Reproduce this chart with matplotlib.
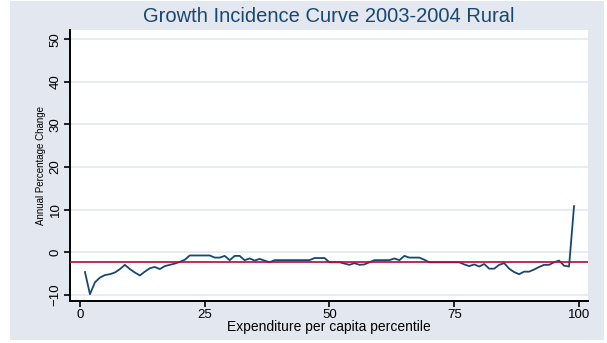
import numpy as np
import matplotlib.pyplot as plt
from matplotlib.patches import Rectangle

plt.rcParams['font.family'] = ['Liberation Sans', 'DejaVu Sans']

# growth in per capita expenditure by percentile, rural 2003-2004
percentile = np.arange(1, 100)
growth = [
    -4.7, -9.9, -7.1, -6.0, -5.4, -5.2, -4.8, -4.0, -3.0, -4.0,
    -4.8, -5.5, -4.6, -3.8, -3.5, -4.0, -3.3, -3.0, -2.7, -2.3,
    -1.8, -0.8, -0.8, -0.8, -0.8, -0.8, -1.3, -1.3, -0.9, -1.9,
    -0.9, -0.9, -1.9, -1.5, -2.0, -1.6, -2.0, -2.4, -1.9, -1.9,
    -1.9, -1.9, -1.9, -1.9, -1.9, -1.9, -1.4, -1.4, -1.4, -2.4,
    -2.4, -2.4, -2.7, -3.0, -2.6, -3.0, -2.9, -2.4, -1.9, -1.9,
    -1.9, -1.9, -1.5, -1.9, -0.9, -1.3, -1.3, -1.3, -1.8, -2.4,
    -2.4, -2.4, -2.4, -2.4, -2.4, -2.4, -2.9, -3.3, -2.9, -3.4,
    -2.8, -3.9, -3.9, -3.0, -2.6, -3.9, -4.7, -5.2, -4.6, -4.6,
    -4.1, -3.5, -3.0, -3.0, -2.4, -2.0, -3.2, -3.4, 10.8,
]
mean_growth = -2.4

x_ticks = [0, 25, 50, 75, 100]
y_ticks = [-10, 0, 10, 20, 30, 40, 50]

W, H = 607, 343
fig = plt.figure(figsize=(W / 100, H / 100), dpi=100, facecolor='white')
fig.patches.append(Rectangle((10 / W, 3 / H), 594 / W, 339 / H,
                             transform=fig.transFigure, facecolor='#e3e7f0',
                             edgecolor='none', zorder=-10))

ax = fig.add_axes([70 / W, 42 / H, 518 / W, 271 / H])
ax.set_facecolor('white')

ax.plot(percentile, growth, color='#1a476f', lw=1.3, zorder=3)
ax.axhline(mean_growth, color='#c10534', lw=1.2, zorder=4)

ax.set_xlim(-2.0, 101.8)
ax.set_ylim(-11.5, 52.2)
ax.set_xticks(x_ticks)
ax.set_yticks(y_ticks)
ax.grid(axis='y', color='#e3e7f0', lw=1.2, zorder=1)
ax.grid(axis='x', visible=False)

for s in ['top', 'right']:
    ax.spines[s].set_visible(False)
for s in ['left', 'bottom']:
    ax.spines[s].set_linewidth(1.4)
    ax.spines[s].set_color('black')

ax.tick_params(axis='both', direction='out', length=4, width=1.2,
               labelsize=9.5, colors='black')
ax.tick_params(axis='x', pad=2)
ax.tick_params(axis='y', pad=2)
for lab in ax.get_yticklabels():
    lab.set_rotation(90)
    lab.set_va('center')

ax.set_xlabel('Expenditure per capita percentile', fontsize=10, labelpad=-1)
ax.set_ylabel('Annual Percentage Change', fontsize=7, labelpad=3)
fig.text((70 + 588) / 2 / W, 1 - 17 / H, 'Growth Incidence Curve 2003-2004 Rural',
         ha='center', va='center', fontsize=14.5, color='#1a476f')

fig.savefig('out.png', dpi=100, facecolor='white')
